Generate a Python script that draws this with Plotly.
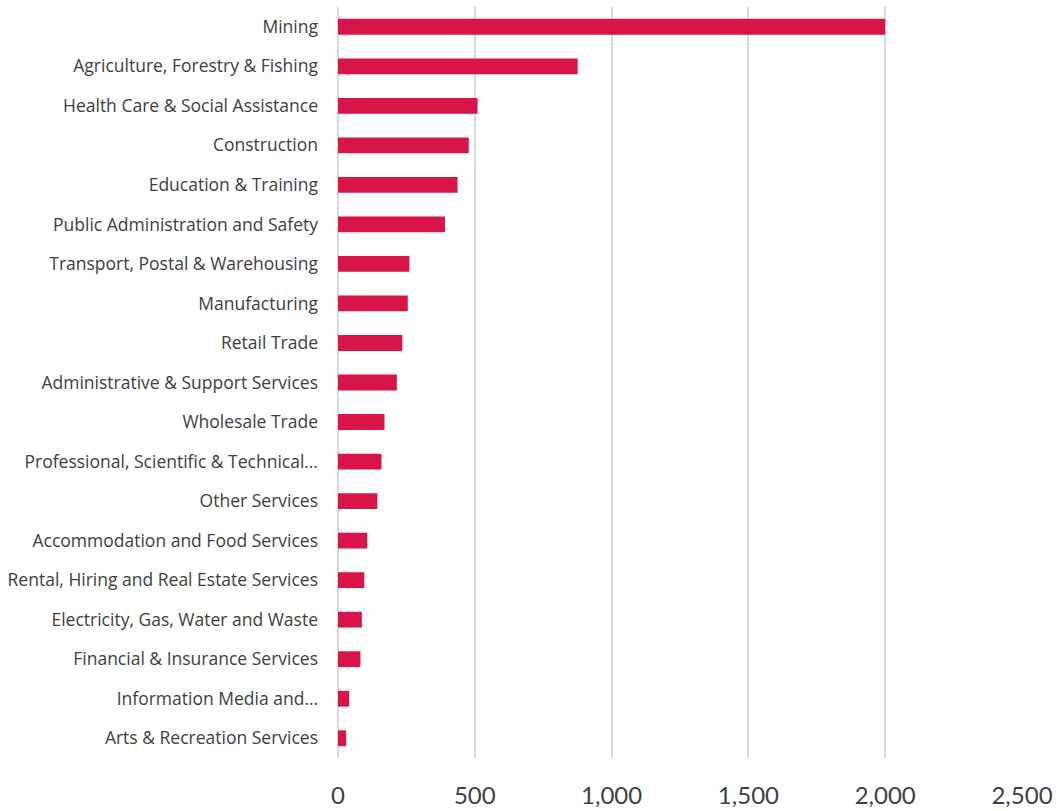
import plotly.graph_objects as go

# Industries, listed from largest to smallest value
industries = [
    "Mining",
    "Agriculture, Forestry & Fishing",
    "Health Care & Social Assistance",
    "Construction",
    "Education & Training",
    "Public Administration and Safety",
    "Transport, Postal & Warehousing",
    "Manufacturing",
    "Retail Trade",
    "Administrative & Support Services",
    "Wholesale Trade",
    "Professional, Scientific & Technical…",
    "Other Services",
    "Accommodation and Food Services",
    "Rental, Hiring and Real Estate Services",
    "Electricity, Gas, Water and Waste",
    "Financial & Insurance Services",
    "Information Media and…",
    "Arts & Recreation Services",
]
values = [2000, 876, 510, 478, 437, 391, 261, 255, 235, 215, 170, 159, 144,
          107, 96, 87, 82, 41, 30]

x_ticks = [0, 500, 1000, 1500, 2000, 2500]
x_tick_text = ["0", "500", "1,000", "1,500", "2,000", "2,500"]

fig = go.Figure(
    go.Bar(
        x=values,
        y=industries,
        orientation="h",
        marker=dict(color="#D91446", line=dict(width=0)),
    )
)

fig.update_layout(
    width=1059,
    height=811,
    paper_bgcolor="white",
    plot_bgcolor="white",
    margin=dict(l=338, r=37, t=7, b=53),
    bargap=0.6,
    showlegend=False,
    font=dict(family="'Open Sans', Lato, sans-serif", color="#404040"),
)

fig.update_xaxes(
    range=[0, 2500],
    tickvals=x_ticks,
    ticktext=x_tick_text,
    showgrid=True,
    gridcolor="#D9D9D9",
    gridwidth=2,
    zeroline=True,
    zerolinecolor="#D9D9D9",
    zerolinewidth=2,
    showline=False,
    ticks="",
    tickfont=dict(family="Lato, 'Open Sans', sans-serif", size=24, color="#404040"),
    ticklabelstandoff=21,
    automargin=False,
    fixedrange=True,
)

fig.update_yaxes(
    autorange="reversed",
    showgrid=False,
    zeroline=False,
    showline=False,
    ticks="",
    tickfont=dict(size=17.5, color="#404040"),
    ticklabelstandoff=19,
    automargin=False,
    fixedrange=True,
)

fig.write_html("out.html", config={"displayModeBar": False})
